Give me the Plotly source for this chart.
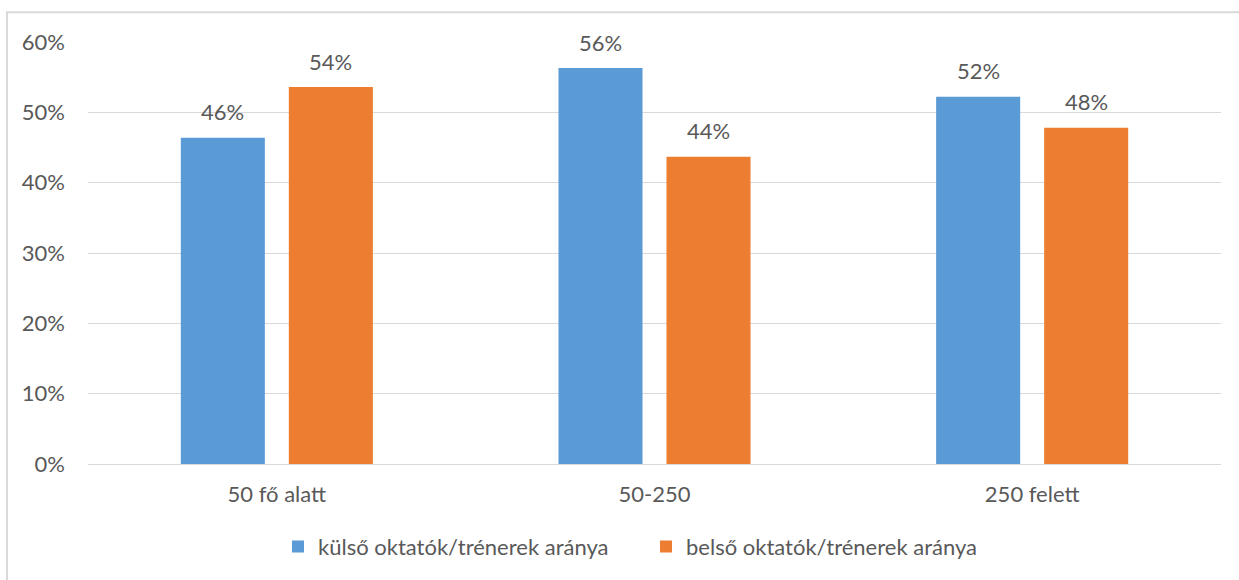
import plotly.graph_objects as go

# Data: share of external vs internal trainers by company size
categories = ["50 fő alatt", "50-250", "250 felett"]
kulso = [0.464, 0.563, 0.522]
belso = [0.536, 0.437, 0.478]
series_names = ["külső oktatók/trénerek aránya", "belső oktatók/trénerek aránya"]
y_ticks = [0, 0.1, 0.2, 0.3, 0.4, 0.5, 0.6]

BLUE = "#5B9BD5"
ORANGE = "#ED7D31"
TEXT = "#595959"
GRID = "#D9D9D9"
FONT = "Lato"
FS = 22

# Plot area geometry in pixels
W, H = 1239, 580
ML, MR, MT, MB = 88, 18, 42, 114
PW = W - ML - MR
PH = H - MT - MB

fig = go.Figure()
for name, vals, color in [(series_names[0], kulso, BLUE), (series_names[1], belso, ORANGE)]:
    fig.add_trace(go.Bar(
        x=categories, y=vals, name=name,
        marker=dict(color=color, line=dict(width=0)),
        hoverinfo="skip",
    ))

# Value labels above the bars, shifted to each bar of the group
slot = PW / 3 * (1 - 0.428) / 2
for i, vals in enumerate([kulso, belso]):
    shift = (i - 0.5) * slot
    for c, v in zip(categories, vals):
        fig.add_annotation(
            x=c, y=v, xref="x", yref="y",
            text=f"{round(v * 100)}%", showarrow=False,
            xshift=shift, yshift=26, yanchor="middle",
            font=dict(family=FONT, size=FS, color=TEXT),
        )

# Light outer frame of the chart area
fig.add_shape(
    type="rect", xref="paper", yref="paper",
    x0=(7 - ML) / PW, x1=(W + 10 - ML) / PW,
    y0=-(H + 10 - MT - PH) / PH, y1=(MT - 12) / PH + 1,
    line=dict(color=GRID, width=2), fillcolor="rgba(0,0,0,0)", layer="below",
)

fig.update_layout(
    width=W, height=H,
    margin=dict(l=ML, r=MR, t=MT, b=MB),
    paper_bgcolor="white", plot_bgcolor="white",
    barmode="group", bargap=0.428, bargroupgap=0.222,
    font=dict(family=FONT, size=FS, color=TEXT),
    showlegend=True,
    legend=dict(
        orientation="h", x=(278 - ML) / PW, xanchor="left",
        y=-(549 - MT - PH) / PH, yanchor="middle",
        font=dict(family=FONT, size=FS, color=TEXT),
        itemwidth=30, traceorder="normal",
        entrywidth=323, entrywidthmode="pixels",
    ),
    xaxis=dict(
        showgrid=False, showline=True, linecolor=GRID, linewidth=1,
        ticks="", ticklabelstandoff=11,
        tickfont=dict(family=FONT, size=FS, color=TEXT),
    ),
    yaxis=dict(
        range=[0, 0.6], tickvals=y_ticks, tickformat=".0%",
        showgrid=True, gridcolor=GRID, gridwidth=1,
        zeroline=False, showline=False, ticks="", ticklabelstandoff=22,
        tickfont=dict(family=FONT, size=FS, color=TEXT),
    ),
)

fig.write_html("out.html")
